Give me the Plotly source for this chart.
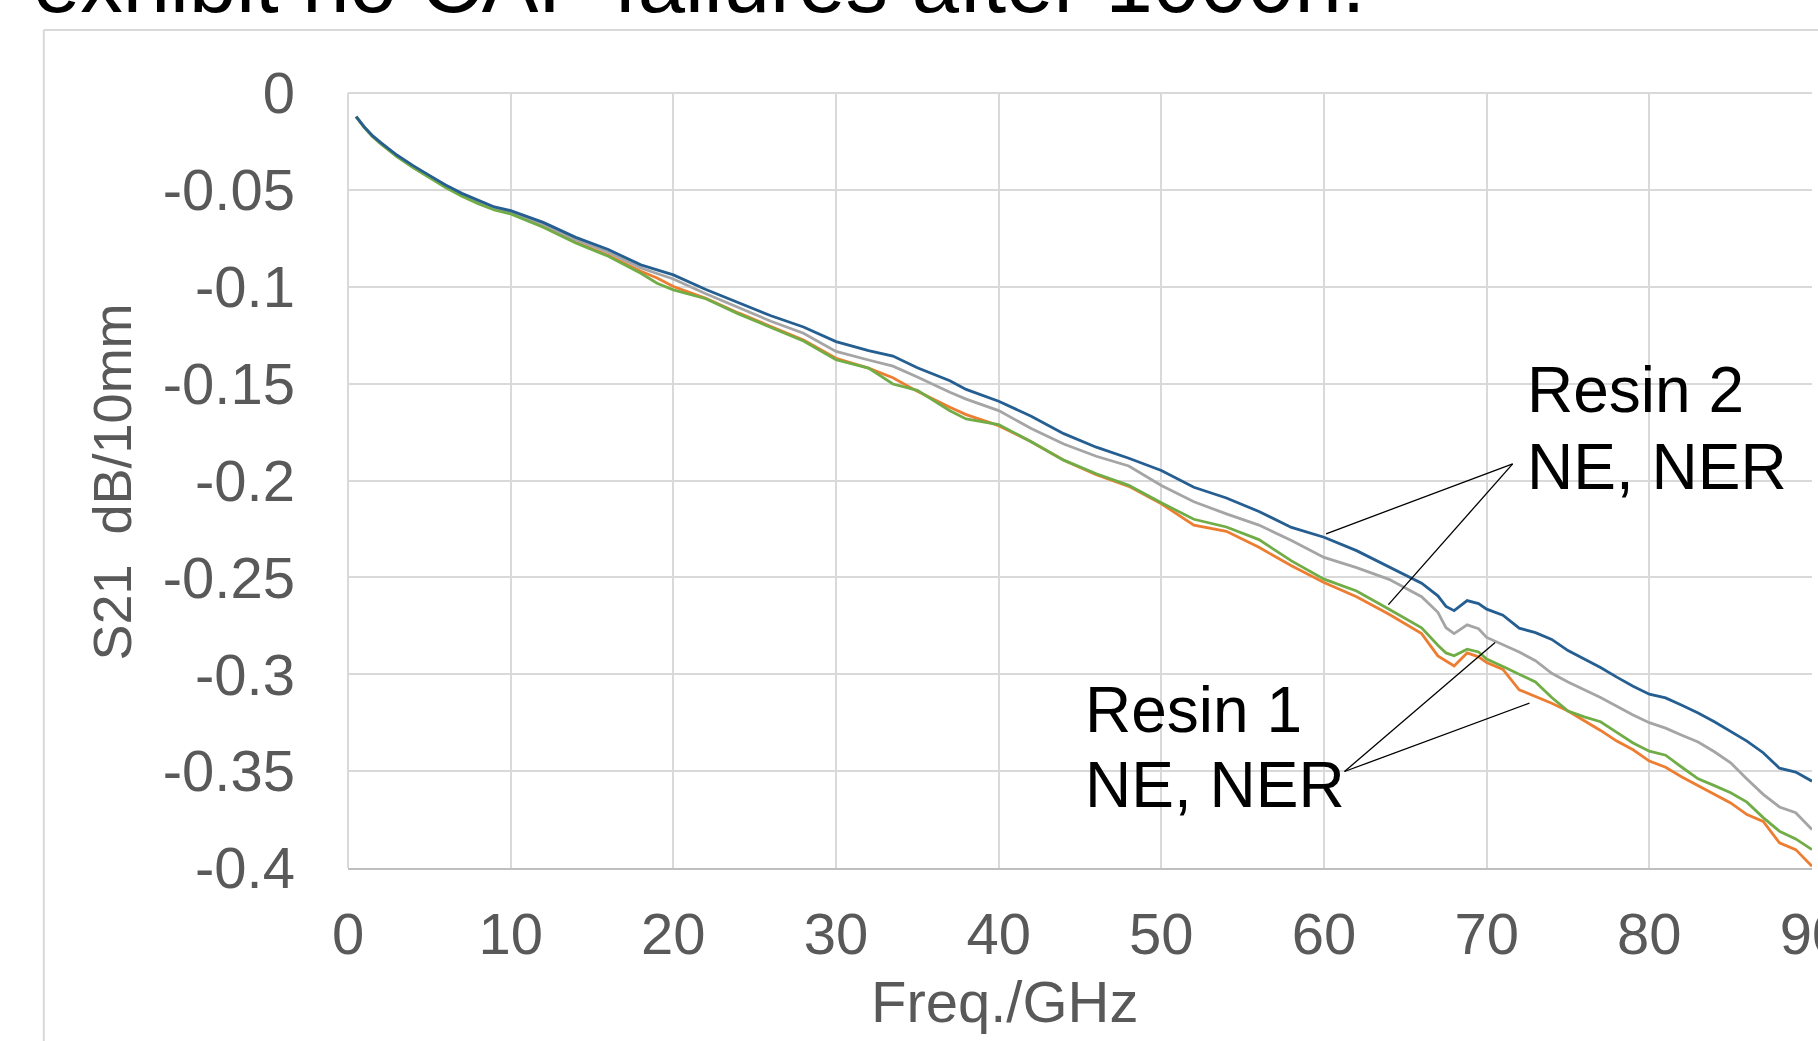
import plotly.graph_objects as go

# ---------------- data ----------------
freq_ghz = [0.5, 1, 1.5, 2, 3, 4, 5, 6, 7, 8, 9, 10, 12, 14, 16, 18, 19, 20, 22, 24,
            26, 28, 30, 32, 33.5, 35, 37, 38, 40, 42, 44, 46, 48, 50, 52, 54, 56, 58,
            60, 62, 64, 66, 67, 67.5, 68, 68.8, 69.5, 70, 71, 72, 73, 74, 75, 76, 77,
            78, 79, 80, 81, 82, 83, 84, 85, 86, 87, 88, 89, 90]

s21_blue = [-0.0122, -0.0175, -0.0220, -0.0255, -0.0320, -0.0375, -0.0425, -0.0475, -0.0518, -0.0555,
            -0.0588, -0.0607, -0.0668, -0.0745, -0.0808, -0.0887, -0.0912, -0.0939, -0.1014, -0.1082,
            -0.1150, -0.1208, -0.1283, -0.1330, -0.1358, -0.1418, -0.1485, -0.1530, -0.1591, -0.1668,
            -0.1758, -0.1828, -0.1885, -0.1948, -0.2035, -0.2090, -0.2160, -0.2242, -0.2293, -0.2362,
            -0.2445, -0.2530, -0.2595, -0.2650, -0.2672, -0.2620, -0.2635, -0.2664, -0.2695, -0.2762,
            -0.2785, -0.2820, -0.2878, -0.2920, -0.2965, -0.3015, -0.3062, -0.3103, -0.3122, -0.3160,
            -0.3200, -0.3245, -0.3293, -0.3345, -0.3405, -0.3485, -0.3505, -0.3552]

s21_grey = [-0.0122, -0.0176, -0.0221, -0.0257, -0.0322, -0.0378, -0.0428, -0.0479, -0.0523, -0.0561,
            -0.0595, -0.0614, -0.0678, -0.0757, -0.0822, -0.0903, -0.0930, -0.0960, -0.1036, -0.1107,
            -0.1178, -0.1240, -0.1334, -0.1378, -0.1410, -0.1466, -0.1545, -0.1580, -0.1639, -0.1732,
            -0.1812, -0.1875, -0.1925, -0.2026, -0.2110, -0.2172, -0.2230, -0.2310, -0.2397, -0.2450,
            -0.2510, -0.2600, -0.2680, -0.2760, -0.2790, -0.2745, -0.2765, -0.2810, -0.2848, -0.2885,
            -0.2930, -0.2995, -0.3040, -0.3080, -0.3120, -0.3165, -0.3210, -0.3250, -0.3278, -0.3315,
            -0.3350, -0.3400, -0.3457, -0.3540, -0.3620, -0.3685, -0.3715, -0.3802]

s21_orange = [-0.0122, -0.0177, -0.0223, -0.0260, -0.0326, -0.0383, -0.0434, -0.0485, -0.0530, -0.0568,
              -0.0601, -0.0620, -0.0690, -0.0770, -0.0838, -0.0920, -0.0955, -0.0999, -0.1060, -0.1135,
              -0.1205, -0.1275, -0.1369, -0.1420, -0.1470, -0.1540, -0.1622, -0.1660, -0.1717, -0.1800,
              -0.1895, -0.1970, -0.2030, -0.2120, -0.2230, -0.2262, -0.2345, -0.2440, -0.2526, -0.2600,
              -0.2690, -0.2790, -0.2905, -0.2930, -0.2957, -0.2890, -0.2910, -0.2940, -0.2975, -0.3080,
              -0.3115, -0.3150, -0.3190, -0.3240, -0.3290, -0.3345, -0.3390, -0.3448, -0.3480, -0.3530,
              -0.3575, -0.3620, -0.3664, -0.3724, -0.3760, -0.3870, -0.3905, -0.3991]

s21_green = [-0.0122, -0.0178, -0.0224, -0.0261, -0.0328, -0.0385, -0.0436, -0.0488, -0.0533, -0.0571,
             -0.0604, -0.0624, -0.0693, -0.0774, -0.0843, -0.0930, -0.0982, -0.1016, -0.1062, -0.1140,
             -0.1210, -0.1280, -0.1377, -0.1420, -0.1502, -0.1535, -0.1640, -0.1682, -0.1711, -0.1800,
             -0.1895, -0.1965, -0.2025, -0.2115, -0.2200, -0.2240, -0.2305, -0.2415, -0.2509, -0.2570,
             -0.2665, -0.2760, -0.2850, -0.2890, -0.2905, -0.2871, -0.2885, -0.2922, -0.2960, -0.3000,
             -0.3040, -0.3120, -0.3190, -0.3220, -0.3245, -0.3300, -0.3355, -0.3397, -0.3418, -0.3480,
             -0.3540, -0.3575, -0.3612, -0.3660, -0.3740, -0.3810, -0.3850, -0.3905]

x_tick_vals = [0, 10, 20, 30, 40, 50, 60, 70, 80, 90]
x_tick_text = ["0", "10", "20", "30", "40", "50", "60", "70", "80", "90"]
y_tick_vals = [0, -0.05, -0.1, -0.15, -0.2, -0.25, -0.3, -0.35, -0.4]
y_tick_text = ["0", "-0.05", "-0.1", "-0.15", "-0.2", "-0.25", "-0.3", "-0.35", "-0.4"]

# ---------------- figure ----------------
FONT = "Liberation Sans, Arial, sans-serif"
GRID = "#d9d9d9"
TICK_COLOR = "#595959"

fig = go.Figure()
series = [
    ("Resin 1 NE", s21_orange, "#ED7D31"),
    ("Resin 2 NER", s21_grey, "#A5A5A5"),
    ("Resin 1 NER", s21_green, "#70AD47"),
    ("Resin 2 NE", s21_blue, "#255E91"),
]
for name, vals, color in series:
    fig.add_trace(go.Scatter(x=freq_ghz, y=vals, mode="lines", name=name,
                             line=dict(color=color, width=2.8), showlegend=False))

fig.update_layout(
    width=1818, height=1041,
    margin=dict(l=348, r=6, t=93, b=173),
    paper_bgcolor="white", plot_bgcolor="white",
    font=dict(family=FONT, color=TICK_COLOR),
    xaxis=dict(range=[0, 90], tickvals=x_tick_vals, ticktext=x_tick_text,
               automargin=False, ticklabeloverflow="allow",
               showgrid=True, gridcolor=GRID, gridwidth=2,
               zeroline=True, zerolinecolor=GRID, zerolinewidth=2,
               showline=True, linecolor="#bfbfbf", linewidth=2,
               ticks="", ticklabelstandoff=14,
               tickfont=dict(family=FONT, size=58, color=TICK_COLOR)),
    yaxis=dict(range=[-0.4, 0], tickvals=y_tick_vals, ticktext=y_tick_text,
               automargin=False, ticklabeloverflow="allow",
               showgrid=True, gridcolor=GRID, gridwidth=2,
               zeroline=True, zerolinecolor=GRID, zerolinewidth=2,
               showline=False, ticks="", ticklabelstandoff=52,
               tickfont=dict(family=FONT, size=58, color=TICK_COLOR)),
)

annotations = [
    # slide text above the chart (cut off by the page edge)
    dict(text="exhibit no CAF failures after 1000h.", xref="paper", yref="paper",
         x=-0.2165, y=1, xanchor="left", yanchor="bottom", yshift=61, showarrow=False,
         font=dict(family=FONT, size=85, color="black")),
    # axis titles
    dict(text="Freq./GHz", xref="paper", yref="paper", x=0.4487, y=0,
         xanchor="center", yanchor="middle", yshift=-133, showarrow=False,
         font=dict(family=FONT, size=58, color=TICK_COLOR)),
    dict(text="S21\u00a0 dB/10mm", xref="paper", yref="paper", x=-0.161, y=0.4977,
         xanchor="center", yanchor="middle", textangle=-90, showarrow=False,
         font=dict(family=FONT, size=54, color=TICK_COLOR)),
    # series labels
    dict(text="Resin 2", x=72.34, y=-0.1531, xanchor="left", yanchor="middle",
         showarrow=False, font=dict(family=FONT, size=64, color="black")),
    dict(text="NE, NER", x=72.34, y=-0.1928, xanchor="left", yanchor="middle",
         showarrow=False, font=dict(family=FONT, size=64, color="black")),
    dict(text="Resin 1", x=45.17, y=-0.3187, xanchor="left", yanchor="middle",
         showarrow=False, font=dict(family=FONT, size=64, color="black")),
    dict(text="NE, NER", x=45.17, y=-0.3574, xanchor="left", yanchor="middle",
         showarrow=False, font=dict(family=FONT, size=64, color="black")),
]
fig.update_layout(annotations=annotations)

# leader lines from labels to curves
leaders = [
    (71.60, -0.1914, 60.13, -0.2275),
    (71.60, -0.1914, 63.96, -0.2641),
    (61.26, -0.3502, 70.52, -0.2836),
    (61.26, -0.3502, 72.63, -0.3149),
]
shapes = []
for x0, y0, x1, y1 in leaders:
    shapes.append(dict(type="line", xref="x", yref="y", x0=x0, y0=y0, x1=x1, y1=y1,
                       line=dict(color="black", width=1.3)))
# outer chart-area border (light grey), extends beyond the page
shapes.append(dict(type="line", xref="paper", yref="paper", x0=-0.2078, y0=1.0813,
                   x1=1.05, y1=1.0813, line=dict(color=GRID, width=2)))
shapes.append(dict(type="line", xref="paper", yref="paper", x0=-0.2078, y0=1.0813,
                   x1=-0.2078, y1=-0.3, line=dict(color=GRID, width=2)))
fig.update_layout(shapes=shapes)

fig.write_html("out.html", config={"displayModeBar": False},
               post_script="document.body.style.margin='0';document.body.style.overflow='hidden';")
